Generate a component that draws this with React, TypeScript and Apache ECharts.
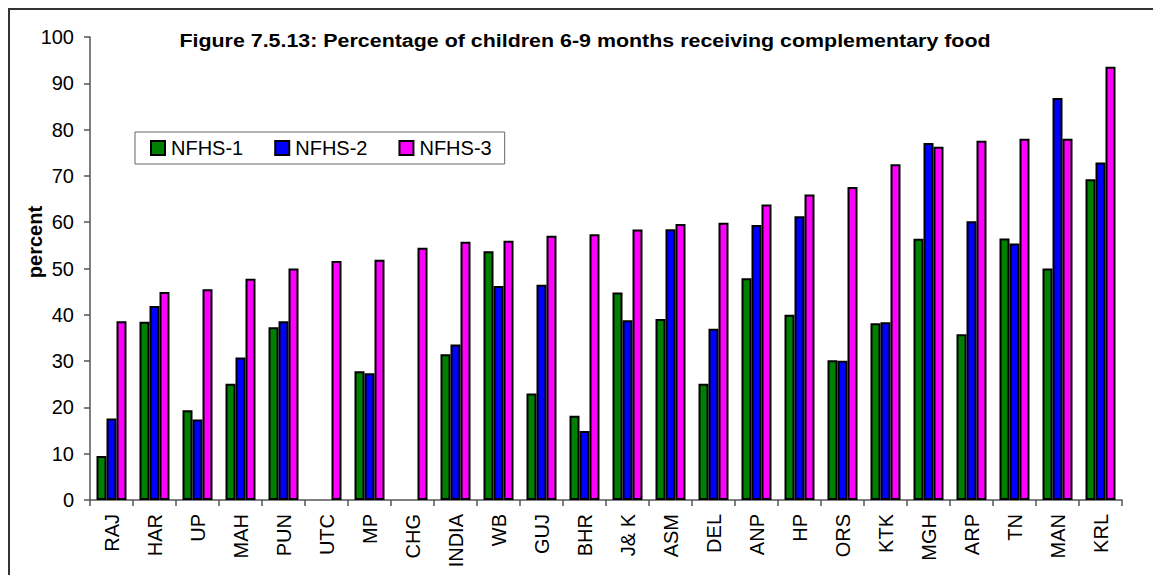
import React, { useEffect, useRef } from "react";
import * as echarts from "echarts";

const categories = ["RAJ", "HAR", "UP", "MAH", "PUN", "UTC", "MP", "CHG", "INDIA", "WB", "GUJ", "BHR", "J& K", "ASM", "DEL", "ANP", "HP", "ORS", "KTK", "MGH", "ARP", "TN", "MAN", "KRL"];
const nfhs1 = [9.5, 38.5, 19.4, 25.1, 37.3, null, 27.8, null, 31.5, 53.7, 23.0, 18.2, 44.8, 39.1, 25.1, 47.9, 40.0, 30.2, 38.2, 56.4, 35.8, 56.5, 50.0, 69.3];
const nfhs2 = [17.6, 41.9, 17.4, 30.8, 38.6, null, 27.4, null, 33.6, 46.2, 46.5, 14.9, 38.8, 58.5, 37.0, 59.4, 61.3, 30.1, 38.4, 77.1, 60.2, 55.4, 86.8, 72.9];
const nfhs3 = [38.6, 44.9, 45.5, 47.8, 50.0, 51.6, 51.9, 54.5, 55.8, 56.0, 57.1, 57.4, 58.4, 59.6, 59.9, 63.8, 66.0, 67.6, 72.5, 76.3, 77.6, 78.0, 78.0, 93.6];
const seriesNames = ["NFHS-1", "NFHS-2", "NFHS-3"];
const seriesColors = ["#008000", "#0000FF", "#FF00FF"];
const yTicks = { min: 0, max: 100, interval: 10 };
const titleText = "Figure 7.5.13: Percentage of children 6-9 months receiving complementary food";
const yName = "percent";

const FONT = "'Liberation Sans', Arial, sans-serif";

export default function App() {
  const ref = useRef<HTMLDivElement>(null);
  useEffect(() => {
    if (!ref.current) return;
    const chart = echarts.init(ref.current, null, { renderer: "svg" });
    const data = [nfhs1, nfhs2, nfhs3];
    chart.setOption({
      animation: false,
      backgroundColor: "#ffffff",
      textStyle: { fontFamily: FONT },
      legend: {
        left: 135,
        top: 132,
        orient: "horizontal",
        data: seriesNames,
        itemWidth: 14,
        itemHeight: 14,
        itemGap: 31,
        icon: "rect",
        backgroundColor: "#fff",
        borderColor: "#666",
        borderWidth: 1,
        padding: [6, 13, 6, 15],
        textStyle: { fontFamily: FONT, fontSize: 20, color: "#000", padding: [0, 0, 0, 1] },
        itemStyle: { borderColor: "#000", borderWidth: 2 },
      },
      grid: { left: 90, right: 31, top: 37, bottom: 75, containLabel: false },
      xAxis: {
        type: "category",
        data: categories,
        axisLine: { lineStyle: { color: "#555", width: 1.5 } },
        axisTick: { show: true, length: 6, lineStyle: { color: "#555", width: 1.5 } },
        axisLabel: { rotate: 90, fontSize: 20, color: "#000", fontFamily: FONT, margin: 14, interval: 0 },
      },
      yAxis: {
        type: "value",
        min: yTicks.min,
        max: yTicks.max,
        interval: yTicks.interval,
        splitLine: { show: false },
        axisLine: { show: true, lineStyle: { color: "#555", width: 1.5 } },
        axisTick: { show: true, length: 6, lineStyle: { color: "#555", width: 1.5 } },
        axisLabel: { fontSize: 20, color: "#000", fontFamily: FONT, margin: 16 },
      },
      graphic: [
        {
          type: "rect",
          shape: { x: 9, y: 9, width: 1200, height: 620 },
          style: { fill: "none", stroke: "#333", lineWidth: 2 },
          silent: true,
          z: -1,
        },
        {
          type: "text",
          x: 585,
          y: 40,
          scaleX: 1.127,
          style: {
            text: titleText,
            font: `bold 19px ${FONT}`,
            fill: "#000",
            textAlign: "center",
            textVerticalAlign: "middle",
          },
        },
        {
          type: "text",
          x: 35,
          y: 242,
          rotation: Math.PI / 2,
          style: {
            text: yName,
            font: `bold 20px ${FONT}`,
            fill: "#000",
            textAlign: "center",
            textVerticalAlign: "middle",
          },
        },
      ],
      series: seriesNames.map((name, i) => ({
        name,
        type: "bar",
        data: data[i],
        barWidth: 10,
        barGap: "0%",
        itemStyle: { color: seriesColors[i], borderColor: "#000", borderWidth: 2 },
      })),
    });
    return () => chart.dispose();
  }, []);
  return (
    <div
      ref={ref}
      style={{ position: "fixed", left: 0, top: 0, width: 1153, height: 575, background: "#fff" }}
    />
  );
}
